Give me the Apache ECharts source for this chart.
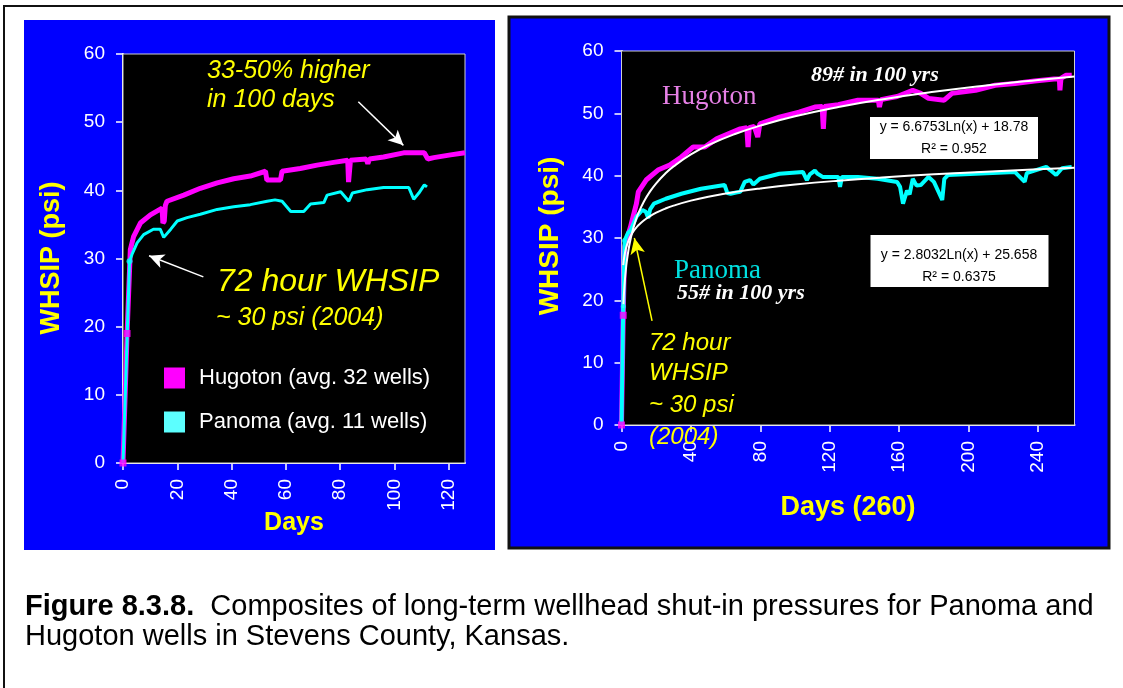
<!DOCTYPE html>
<html>
<head>
<meta charset="utf-8">
<script src="https://cdn.jsdelivr.net/npm/echarts@6/dist/echarts.min.js"></script>
<style>
  html, body { margin: 0; padding: 0; background: #ffffff; }
  #chart { width: 1123px; height: 688px; }
</style>
</head>
<body>
<div id="chart"></div>
<script>
// ---- First 126 days: average WHSIP (psi) by day ----
const hugotonShortDays = [0, 1.5, 2.7, 3.9, 6.4, 10.1, 14.4, 14.7, 15.2, 15.6, 16.2, 22.4, 28.5, 34.7, 40.8, 46.9, 52.5, 53.0, 58.0, 58.6, 65.3, 71.5, 77.6, 82.8, 83.1, 83.5, 83.8, 89.6, 90.2, 90.8, 96.0, 103.4, 111.0, 112.3, 114.5, 120.7, 126.0];
const hugotonShortPsi  = [0, 19.0, 31.3, 33.2, 35.2, 36.4, 37.4, 35.2, 35.5, 37.8, 38.4, 39.3, 40.3, 41.1, 41.7, 42.1, 42.8, 41.5, 41.5, 42.8, 43.2, 43.7, 44.1, 44.4, 41.2, 41.2, 44.4, 44.6, 43.9, 44.6, 44.9, 45.5, 45.5, 44.6, 44.8, 45.2, 45.5];
const panomaShortDays  = [0, 1.5, 2.4, 3.3, 5.2, 7.6, 11.2, 13.7, 15.0, 17.6, 20.0, 23.6, 28.5, 34.7, 40.8, 46.9, 53.1, 56.0, 58.6, 61.8, 66.6, 69.1, 74.0, 75.2, 80.2, 83.2, 84.5, 90.0, 96.0, 102.2, 105.3, 107.1, 109.0, 111.0, 112.0];
const panomaShortPsi   = [0, 18.0, 29.6, 30.6, 32.3, 33.5, 34.3, 34.3, 33.1, 34.3, 35.5, 36.0, 36.5, 37.2, 37.6, 37.9, 38.4, 38.6, 38.4, 36.9, 36.9, 38.0, 38.2, 39.3, 39.8, 38.4, 39.6, 40.1, 40.4, 40.4, 40.4, 38.7, 39.6, 40.8, 40.5];

// ---- 260-day record ----
const hugotonLongDays = [0, 1, 1.8, 4.0, 5.2, 8.6, 9.7, 14.2, 21.0, 27.8, 34.5, 41.3, 48.0, 54.8, 61.6, 68.4, 72.2, 72.9, 73.6, 76.5, 77.5, 78.5, 79.7, 91.0, 102.3, 111.4, 115.6, 116.3, 117.0, 124.9, 136.2, 148.0, 148.6, 149.5, 158.8, 167.8, 172.4, 176.9, 185.9, 190.4, 204.0, 215.3, 226.6, 237.9, 249.2, 252.3, 252.6, 253.2, 256.0, 259.4];
const hugotonLongPsi  = [0, 17.6, 28.6, 30.7, 31.8, 35.5, 37.4, 39.3, 40.9, 41.7, 43.0, 44.6, 44.6, 45.9, 46.7, 47.5, 47.7, 44.6, 47.7, 47.9, 48.0, 46.2, 48.3, 49.4, 50.2, 51.0, 51.1, 47.5, 51.1, 51.4, 52.1, 52.1, 51.0, 52.2, 52.7, 53.7, 53.2, 52.4, 52.1, 53.2, 53.7, 54.5, 54.8, 55.2, 55.5, 55.5, 53.7, 55.6, 56.1, 56.1];
const panomaLongDays  = [0, 1, 1.8, 3.7, 5.2, 8.6, 12.0, 14.0, 15.4, 16.5, 18.7, 25.5, 34.5, 45.8, 59.4, 61.0, 62.8, 66.0, 68.4, 71.0, 74.0, 76.0, 79.7, 91.0, 104.5, 106.8, 108.5, 111.4, 113.0, 115.9, 124.9, 125.9, 127.0, 136.2, 147.5, 158.8, 160.5, 162.2, 164.5, 166.0, 167.8, 170.0, 172.4, 176.9, 180.0, 184.8, 186.0, 188.1, 204.0, 226.6, 232.3, 233.5, 235.7, 244.7, 247.0, 250.4, 253.8, 259.4];
const panomaLongPsi   = [0, 19.0, 29.6, 30.8, 31.2, 33.4, 34.5, 34.2, 33.2, 34.6, 35.5, 36.3, 37.1, 37.9, 38.5, 37.2, 37.1, 37.3, 37.4, 39.0, 39.3, 38.6, 39.5, 40.3, 40.6, 39.3, 40.2, 40.8, 40.3, 39.8, 39.8, 38.2, 39.8, 39.8, 39.5, 39.0, 38.2, 35.5, 37.6, 37.0, 39.5, 38.4, 38.5, 39.8, 39.0, 36.1, 39.5, 40.1, 40.3, 40.6, 39.0, 40.4, 40.6, 41.4, 40.9, 40.1, 41.2, 41.4];

// ---- Logarithmic trend lines, y = a*Ln(x) + b ----
const hugotonFit = [6.6753, 18.78];
const panomaFit  = [2.8032, 25.658];
const fitDays = [1, 1.25, 1.5, 2, 2.5, 3, 4, 5, 6, 8, 10, 13, 16, 20, 25, 30, 40, 50, 65, 80, 100, 125, 150, 180, 210, 240, 261];

// ---- Tick values ----
const shortDayTicks = [0, 20, 40, 60, 80, 100, 120];
const longDayTicks  = [0, 40, 80, 120, 160, 200, 240];

const SANS = 'Liberation Sans';
const SERIF = 'Liberation Serif';
const YELLOW = '#ffff00';

const pairs = (xs, ys) => xs.map((x, i) => [x, ys[i]]);
const fitCurve = (c) => fitDays.map(x => [x, c[0] * Math.log(x) + c[1]]);

function xAxisFor(grid, max, interval, ticks) {
  return {
    type: 'value', gridIndex: grid, min: 0, max: max, interval: interval,
    axisLine: { show: true, onZero: false, lineStyle: { color: '#ffffff', width: 2 } },
    axisTick: { show: true, inside: false, length: 7, customValues: ticks,
                lineStyle: { color: '#ffffff', width: 1.5 } },
    axisLabel: { rotate: 90, color: '#ffffff', fontSize: 19, fontFamily: SANS,
                 margin: 16, customValues: ticks },
    splitLine: { show: false }
  };
}
function yAxisFor(grid) {
  return {
    type: 'value', gridIndex: grid, min: 0, max: 60, interval: 10,
    axisLine: { show: true, onZero: false, lineStyle: { color: '#ffffff', width: 2 } },
    axisTick: { show: true, inside: false, length: 7, lineStyle: { color: '#ffffff', width: 1.5 } },
    axisLabel: { color: '#ffffff', fontSize: 19, fontFamily: SANS, margin: 18 },
    splitLine: { show: true, lineStyle: { color: '#a8a8a8', width: 1, type: [10, 6] } }
  };
}

function arrowLine(from, to, color, width, size) {
  return {
    silent: true, animation: false,
    symbol: ['none', 'arrow'], symbolSize: size,
    label: { show: false },
    lineStyle: { color: color, width: width, type: 'solid' },
    emphasis: { disabled: true },
    data: [[{ coord: from }, { coord: to }]]
  };
}

function txt(text, x, y, font, fill, align, extra) {
  return Object.assign({
    type: 'text', x: x, y: y, z: 100,
    style: { text: text, font: font, fill: fill, textAlign: align || 'left', textVerticalAlign: 'middle' }
  }, extra || {});
}

const chart = echarts.init(document.getElementById('chart'), null, { renderer: 'canvas' });

const option = {
  animation: false,
  backgroundColor: '#ffffff',
  grid: [
    { left: 123, top: 54, width: 342, height: 409, show: true, backgroundColor: '#000000',
      borderColor: '#cfcfcf', borderWidth: 1, z: 1 },
    { left: 621.5, top: 51, width: 453, height: 374, show: true, backgroundColor: '#000000',
      borderColor: '#cfcfcf', borderWidth: 1, z: 1 }
  ],
  xAxis: [
    xAxisFor(0, 126, 20, shortDayTicks),
    xAxisFor(1, 261, 40, longDayTicks)
  ],
  yAxis: [yAxisFor(0), yAxisFor(1)],
  legend: {
    left: 159, top: 362, orient: 'vertical', icon: 'rect',
    itemWidth: 21, itemHeight: 21, itemGap: 22,
    itemStyle: { borderWidth: 0 },
    textStyle: { color: '#ffffff', fontSize: 22, fontFamily: SANS, padding: [0, 0, 0, 9] },
    selectedMode: false,
    data: [
      { name: 'Hugoton (avg. 32 wells)', itemStyle: { color: '#ff00ff' } },
      { name: 'Panoma (avg. 11 wells)', itemStyle: { color: '#5cffff' } }
    ]
  },
  series: [
    {
      name: 'Hugoton (avg. 32 wells)', type: 'line', xAxisIndex: 0, yAxisIndex: 0,
      data: pairs(hugotonShortDays, hugotonShortPsi), showSymbol: false, z: 3,
      lineStyle: { color: '#ff00ff', width: 5 }, itemStyle: { color: '#ff00ff' },
      markLine: arrowLine([86.7, 53.0], [103.3, 46.6], '#ffffff', 1.5, [11, 15])
    },
    {
      name: 'Panoma (avg. 11 wells)', type: 'line', xAxisIndex: 0, yAxisIndex: 0,
      data: pairs(panomaShortDays, panomaShortPsi), showSymbol: false, z: 4,
      lineStyle: { color: '#00ffff', width: 3 }, itemStyle: { color: '#00ffff' },
      markLine: arrowLine([29.6, 27.3], [9.6, 30.4], '#ffffff', 1.5, [11, 15])
    },
    {
      name: 'Hugoton start', type: 'scatter', xAxisIndex: 0, yAxisIndex: 0, z: 5,
      data: pairs(hugotonShortDays.slice(0, 2), hugotonShortPsi.slice(0, 2)),
      symbol: 'rect', symbolSize: 7, itemStyle: { color: '#ff00ff' }
    },
    {
      name: 'Panoma start', type: 'scatter', xAxisIndex: 0, yAxisIndex: 0, z: 5,
      data: pairs(panomaShortDays.slice(2, 3), panomaShortPsi.slice(2, 3)),
      symbol: 'circle', symbolSize: 6, itemStyle: { color: '#00ffff' }
    },
    {
      name: 'Hugoton', type: 'line', xAxisIndex: 1, yAxisIndex: 1,
      data: pairs(hugotonLongDays, hugotonLongPsi), showSymbol: false, z: 3,
      lineStyle: { color: '#ff00ff', width: 5 }, itemStyle: { color: '#ff00ff' }
    },
    {
      name: 'Panoma', type: 'line', xAxisIndex: 1, yAxisIndex: 1,
      data: pairs(panomaLongDays, panomaLongPsi), showSymbol: false, z: 4,
      lineStyle: { color: '#00ffff', width: 4 }, itemStyle: { color: '#00ffff' }
    },
    {
      name: 'Hugoton trend', type: 'line', xAxisIndex: 1, yAxisIndex: 1,
      data: fitCurve(hugotonFit), showSymbol: false, smooth: true, z: 6,
      lineStyle: { color: '#ffffff', width: 2 }
    },
    {
      name: 'Panoma trend', type: 'line', xAxisIndex: 1, yAxisIndex: 1,
      data: fitCurve(panomaFit), showSymbol: false, smooth: true, z: 6,
      lineStyle: { color: '#ffffff', width: 2 },
      markLine: arrowLine([17.6, 16.7], [7.4, 30.0], YELLOW, 1.5, [11, 16])
    },
    {
      name: 'Hugoton long start', type: 'scatter', xAxisIndex: 1, yAxisIndex: 1, z: 7,
      data: pairs(hugotonLongDays.slice(0, 2), hugotonLongPsi.slice(0, 2)),
      symbol: 'rect', symbolSize: 7, itemStyle: { color: '#ff00ff' }
    },
    {
      name: 'Panoma long start', type: 'scatter', xAxisIndex: 1, yAxisIndex: 1, z: 7,
      data: pairs(panomaLongDays.slice(1, 3), panomaLongPsi.slice(1, 3)),
      symbol: 'circle', symbolSize: 5, itemStyle: { color: '#00ffff' }
    }
  ],
  graphic: [
    // figure frame
    { type: 'line', z: -5, shape: { x1: 3, y1: 6, x2: 1123, y2: 6 }, style: { stroke: '#111111', lineWidth: 2 } },
    { type: 'line', z: -5, shape: { x1: 4, y1: 6, x2: 4, y2: 688 }, style: { stroke: '#111111', lineWidth: 2 } },
    // panel backgrounds
    { type: 'rect', z: -10, shape: { x: 24, y: 20, width: 471, height: 530 }, style: { fill: '#0000ff' } },
    { type: 'rect', z: -10, shape: { x: 509, y: 17, width: 600, height: 531 },
      style: { fill: '#0000ff', stroke: '#111111', lineWidth: 3 } },

    // left panel titles and notes
    txt('WHSIP (psi)', 52, 258, 'bold 27px ' + SANS, YELLOW, 'center', { rotation: Math.PI / 2 }),
    txt('Days', 294, 523, 'bold 25px ' + SANS, YELLOW, 'center'),
    txt('33-50% higher', 207, 71, 'italic 25px ' + SANS, YELLOW),
    txt('in 100 days', 207, 100, 'italic 25px ' + SANS, YELLOW),
    txt('72 hour WHSIP', 217, 282, 'italic 32px ' + SANS, YELLOW),
    txt('~ 30 psi (2004)', 216, 318, 'italic 25px ' + SANS, YELLOW),

    // right panel titles and notes
    txt('WHSIP (psi)', 550, 236, 'bold 28px ' + SANS, YELLOW, 'center', { rotation: Math.PI / 2 }),
    txt('Days (260)', 848, 508, 'bold 27px ' + SANS, YELLOW, 'center'),
    txt('Hugoton', 662, 97, '27px ' + SERIF, '#e680e6'),
    txt('89# in 100 yrs', 811, 75, 'italic bold 22px ' + SERIF, '#ffffff'),
    txt('Panoma', 674, 271, '27px ' + SERIF, '#00e0e0'),
    txt('55# in 100 yrs', 677, 293, 'italic bold 22px ' + SERIF, '#ffffff'),
    txt('72 hour', 649, 343, 'italic 24px ' + SANS, YELLOW),
    txt('WHSIP', 649, 373, 'italic 24px ' + SANS, YELLOW),
    txt('~ 30 psi', 649, 405, 'italic 24px ' + SANS, YELLOW),
    txt('(2004)', 649, 437, 'italic 24px ' + SANS, YELLOW),

    // trend equation boxes
    { type: 'rect', z: 90, shape: { x: 870, y: 117, width: 168, height: 42 }, style: { fill: '#ffffff' } },
    txt('y = 6.6753Ln(x) + 18.78', 954, 127, '14px ' + SANS, '#000000', 'center'),
    txt('R² = 0.952', 954, 149, '14px ' + SANS, '#000000', 'center'),
    { type: 'rect', z: 90, shape: { x: 870.5, y: 235, width: 178, height: 52 }, style: { fill: '#ffffff' } },
    txt('y = 2.8032Ln(x) + 25.658', 959, 255, '14px ' + SANS, '#000000', 'center'),
    txt('R² = 0.6375', 959, 277, '14px ' + SANS, '#000000', 'center'),

    // caption
    { type: 'text', x: 25, y: 607, z: 100,
      style: { text: '{b|Figure 8.3.8.}  Composites of long-term wellhead shut-in pressures for Panoma and',
               font: '29px ' + SANS, fill: '#000000', textVerticalAlign: 'middle',
               rich: { b: { fontWeight: 'bold', fontSize: 29, fontFamily: SANS, fill: '#000000' } } } },
    txt('Hugoton wells in Stevens County, Kansas.', 25, 637, '29px ' + SANS, '#000000')
  ]
};

chart.setOption(option);
</script>
</body>
</html>
